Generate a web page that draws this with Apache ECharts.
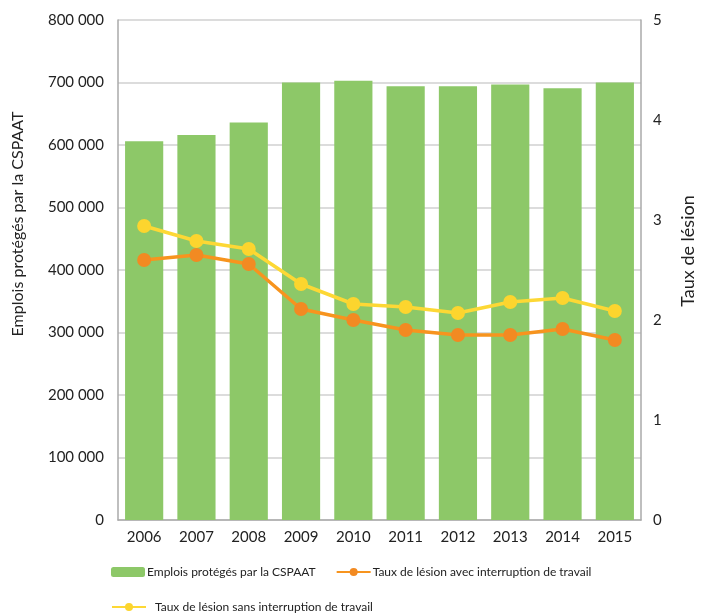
<!DOCTYPE html>
<html>
<head>
<meta charset="utf-8">
<script src="https://cdn.jsdelivr.net/npm/echarts@6/dist/echarts.min.js"></script>
<style>
  html, body { margin: 0; padding: 0; background: #fff; }
  #chart { width: 705px; height: 616px; }
</style>
</head>
<body>
<div id="chart"></div>
<script>
const years = ['2006', '2007', '2008', '2009', '2010', '2011', '2012', '2013', '2014', '2015']
const emplois = [606000, 616000, 636000, 700000, 703000, 694000, 694000, 697000, 691000, 700000]
const tauxAvec = [2.60, 2.65, 2.56, 2.11, 2.00, 1.90, 1.85, 1.85, 1.91, 1.80]
const tauxSans = [2.94, 2.79, 2.71, 2.36, 2.16, 2.13, 2.07, 2.18, 2.22, 2.09]

const font = 'Lato, "Open Sans", sans-serif'
const fmt = v => String(v).replace(/\B(?=(\d{3})+(?!\d))/g, ' ')

const chart = echarts.init(document.getElementById('chart'))
chart.setOption({
  animation: false,
  textStyle: { fontFamily: font },
  grid: { left: 118, right: 52, top: 20, bottom: 96 },
  legend: [
    {
      left: 106, top: 561, itemWidth: 34, itemHeight: 10, itemGap: 20,
      textStyle: { fontSize: 12, color: '#222', fontFamily: font, padding: [0, 0, 0, -3] },
      data: ['Emplois protégés par la CSPAAT', 'Taux de lésion avec interruption de travail']
    },
    {
      left: 106, top: 596, itemWidth: 34, itemHeight: 10,
      textStyle: { fontSize: 12, color: '#222', fontFamily: font, padding: [0, 0, 0, 4] },
      data: ['Taux de lésion sans interruption de travail']
    }
  ],
  xAxis: {
    type: 'category',
    data: years,
    axisLine: { lineStyle: { color: '#aaa', width: 1.5 } },
    axisTick: { show: false },
    axisLabel: { fontSize: 15, color: '#222', margin: 10 }
  },
  yAxis: [
    {
      type: 'value', min: 0, max: 800000, interval: 100000,
      name: 'Emplois protégés par la CSPAAT',
      nameLocation: 'middle', nameGap: 92,
      nameTextStyle: { fontSize: 16, color: '#222', padding: [0, 0, 0, 92] },
      axisLine: { show: true, lineStyle: { color: '#aaa', width: 1.5 } },
      axisLabel: { fontSize: 15, color: '#222', margin: 14, formatter: fmt },
      splitLine: { lineStyle: { color: '#d0d0d0', width: 1.5 } }
    },
    {
      type: 'value', min: 0, max: 5, interval: 1,
      name: 'Taux de lésion',
      nameLocation: 'middle', nameGap: 38,
      nameTextStyle: { fontSize: 18, color: '#222', padding: [0, 0, 0, 38] },
      axisLine: { show: true, lineStyle: { color: '#aaa', width: 1.5 } },
      axisLabel: { fontSize: 15, color: '#222', margin: 12 },
      splitLine: { show: false }
    }
  ],
  series: [
    {
      name: 'Emplois protégés par la CSPAAT',
      type: 'bar',
      data: emplois,
      barCategoryGap: '27%',
      itemStyle: { color: '#8dc868' }
    },
    {
      name: 'Taux de lésion avec interruption de travail',
      type: 'line',
      yAxisIndex: 1,
      data: tauxAvec,
      symbol: 'circle', symbolSize: 14,
      lineStyle: { color: '#f7941e', width: 3.5 },
      itemStyle: { color: '#f28a22' }
    },
    {
      name: 'Taux de lésion sans interruption de travail',
      type: 'line',
      yAxisIndex: 1,
      data: tauxSans,
      symbol: 'circle', symbolSize: 14,
      lineStyle: { color: '#fdd835', width: 3.5 },
      itemStyle: { color: '#fcd52e' }
    }
  ]
})
</script>
</body>
</html>
